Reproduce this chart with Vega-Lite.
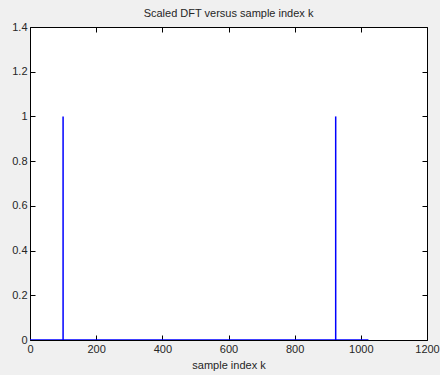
{
  "$schema": "https://vega.github.io/schema/vega-lite/v6.json",
  "width": 397,
  "height": 313,
  "autosize": {"type": "none"},
  "padding": {"left": 30, "top": 27, "right": 13, "bottom": 35},
  "background": "#f0f0f0",
  "config": {
    "view": {"fill": "white", "stroke": "black", "strokeWidth": 1},
    "font": "Liberation Sans",
    "axis": {
      "grid": false,
      "domain": false,
      "ticks": true,
      "tickColor": "#000000",
      "tickOpacity": 1,
      "tickSize": 5,
      "tickWidth": 1,
      "offset": -5,
      "zindex": 2,
      "labelFont": "Liberation Sans",
      "labelFontSize": 11,
      "labelColor": "#262626",
      "titleFont": "Liberation Sans",
      "titleFontSize": 11,
      "titleFontWeight": "normal",
      "titleColor": "#262626"
    }
  },
  "title": {
    "text": "Scaled DFT versus sample index k",
    "font": "Liberation Sans",
    "fontSize": 11,
    "fontWeight": "normal",
    "color": "#262626",
    "offset": 2
  },
  "datasets": {
    "stems": [
      {"k": 100, "v": 1},
      {"k": 924, "v": 1}
    ],
    "baseline": [
      {"k": 0, "v": 0},
      {"k": 1023, "v": 0}
    ]
  },
  "layer": [
    {
      "data": {"name": "baseline"},
      "mark": {"type": "line", "color": "#0000ff", "strokeWidth": 1.5, "clip": true},
      "encoding": {
        "x": {"field": "k", "type": "quantitative", "scale": {"domain": [0, 1200], "nice": false},
              "axis": {"orient": "bottom", "title": "sample index k", "format": "d", "values": [0,200,400,600,800,1000,1200], "labelPadding": 3, "titlePadding": 5, "labelFlush": false, "domain": false, "ticks": true, "tickSize": 5, "tickColor": "#000000", "tickWidth": 1}},
        "y": {"field": "v", "type": "quantitative", "scale": {"domain": [0, 1.4], "nice": false},
              "axis": {"orient": "left", "title": null, "format": "~g", "values": [0,0.2,0.4,0.6,0.8,1,1.2,1.4], "labelPadding": 3, "labelFlush": false, "domain": false, "ticks": true, "tickSize": 5, "tickColor": "#000000", "tickWidth": 1}}
      }
    },
    {
      "data": {"name": "stems"},
      "mark": {"type": "rule", "color": "#0000ff", "strokeWidth": 1.5},
      "encoding": {
        "x": {"field": "k", "type": "quantitative", "axis": null},
        "y": {"field": "v", "type": "quantitative", "axis": null},
        "y2": {"datum": 0}
      }
    },
    {
      "data": {"name": "baseline"},
      "mark": {"type": "point", "opacity": 0},
      "encoding": {
        "x": {"field": "k", "type": "quantitative",
              "axis": {"orient": "top", "title": null, "labels": false, "domain": false, "ticks": true, "tickSize": 5, "tickColor": "#000000", "tickWidth": 1, "values": [0,200,400,600,800,1000,1200]}},
        "y": {"field": "v", "type": "quantitative",
              "axis": {"orient": "right", "title": null, "labels": false, "domain": false, "ticks": true, "tickSize": 5, "tickColor": "#000000", "tickWidth": 1, "values": [0,0.2,0.4,0.6,0.8,1,1.2,1.4]}}
      }
    }
  ],
  "resolve": {"axis": {"x": "independent", "y": "independent"}}
}
